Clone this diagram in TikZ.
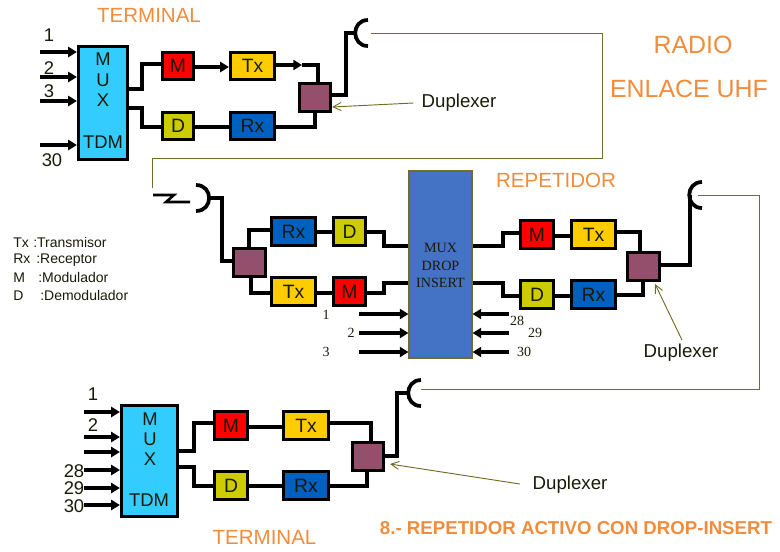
\documentclass[tikz,border=0pt]{standalone}
\usepackage{fontspec}
\setmainfont{Liberation Sans}
\newfontfamily\serifx{Liberation Serif}
\usetikzlibrary{arrows.meta}
\definecolor{ink}{HTML}{1A1A08}
\definecolor{thin}{HTML}{6E6E2A}
\definecolor{orng}{HTML}{F08C3C}
\definecolor{cyanx}{HTML}{33CCFF}
\definecolor{redx}{HTML}{FF0000}
\definecolor{amber}{HTML}{FFCC00}
\definecolor{bluex}{HTML}{0060C0}
\definecolor{olivex}{HTML}{CCCC00}
\definecolor{plum}{HTML}{944F6C}
\definecolor{steel}{HTML}{4472C4}
\newcommand\bx[7]{%
  \pgfmathsetmacro\bxcx{(#3+#5)/2}%
  \pgfmathsetmacro\bxcy{(#4+#6)/2}%
  \pgfmathsetmacro\bxw{(#5-#3-3)*0.75}%
  \pgfmathsetmacro\bxh{(#6-#4-3)*0.75}%
  \node[unit,fill=#2,minimum width=\bxw pt,minimum height=\bxh pt] (#1) at (\bxcx,\bxcy) {#7};}
\tikzset{
  unit/.style={draw=black,line width=2.4pt,inner sep=0pt,text=ink,font=\fontsize{14.5}{18}\selectfont},
  wire/.style={draw=black,line width=2.5pt,line join=miter},
  feed/.style={wire,-{Triangle[length=6.5pt,width=7.5pt]}},
  hop/.style={draw=thin,line width=0.6pt},
  note/.style={draw=thin,line width=0.7pt,-{Straight Barb[length=6pt,width=6pt]}},
  dish/.style={draw=black,line width=2.8pt,line cap=butt},
  lab/.style={text=ink,inner sep=0pt,font=\fontsize{14}{16}\selectfont},
  num/.style={text=ink,inner sep=0pt,font=\fontsize{13.8}{16}\selectfont},
  snum/.style={text=ink,inner sep=0pt,font=\serifx\fontsize{10.5}{12}\selectfont},
  head/.style={text=orng,inner sep=0pt,font=\fontsize{15.4}{18}\selectfont},
  big/.style={text=orng,inner sep=0pt,font=\fontsize{18.7}{22}\selectfont},
  legend/.style={text=ink,inner sep=0pt,anchor=west,font=\fontsize{10.5}{12}\selectfont},
}
\begin{document}
\begin{tikzpicture}[x=0.75pt,y=-0.75pt]
\useasboundingbox (0,0) rectangle (780,551);
% texts
\node[head] (t1) at (149,15) {TERMINAL};
\node[big] (r1) at (693,45) {RADIO};
\node[big] (r2) at (689,89) {ENLACE UHF};
\node[head] (t2) at (556,180) {REPETIDOR};
\node[head] (t3) at (264.5,537) {TERMINAL};
\node[text=orng,inner sep=0pt,font=\bfseries\fontsize{14}{16}\selectfont] (t4) at (576,528) {8.- REPETIDOR ACTIVO CON DROP-INSERT};
\node[legend] (l1) at (13,242) {\makebox[15pt][l]{Tx}:Transmisor};
\node[legend] (l2) at (13,260) {\makebox[17.25pt][l]{Rx}:Receptor};
\node[legend] (l3) at (13,277) {\makebox[18.75pt][l]{M}:Modulador};
\node[legend] (l4) at (13,295) {\makebox[20.25pt][l]{D}:Demodulador};
% terminal 1
\bx{mux1}{cyanx}{77}{45}{129}{161}{}
\node[num] (m1a) at (103,59) {M};
\node[num] (m1b) at (103,80) {U};
\node[num] (m1c) at (103,100) {X};
\node[num] (m1d) at (103,142) {TDM};
\bx{M1}{redx}{161}{51}{195}{81}{M}
\bx{T1}{amber}{229}{51}{276}{81}{Tx}
\bx{D1}{olivex}{161}{111}{195}{141}{D}
\bx{R1}{bluex}{229}{111}{276}{141}{Rx}
\bx{X1}{plum}{298}{82}{332}{113}{}
\node[num] (n1) at (49,35) {1};
\node[num] (n2) at (49,68) {2};
\node[num] (n3) at (49,91) {3};
\node[num] (n30) at (52,160) {30};
\foreach \yy in {52,77,101,145}
  \draw[feed] (40,\yy) -- (mux1.west |- 0,\yy);
\draw[wire] (mux1.east |- 0,89) -| (142,64) -- (M1.west |- 0,64);
\draw[wire] (mux1.east |- 0,108) -| (142,127) -- (D1.west |- 0,127);
\draw[feed] (M1.east |- 0,67) -- (T1.west |- 0,67);
\draw[wire] (D1.east |- 0,127) -- (R1.west |- 0,127);
\draw[feed] (T1.east |- 0,65) -- (302,65);
\draw[wire] (302,65) -| (X1.north -| 318,0);
\draw[wire] (R1.east |- 0,127) -| (X1.south -| 315,0);
\draw[wire] (X1.east |- 0,95) -| (346,33) -- (356,33) coordinate (A1);
\draw[dish] (368,20) .. controls (351,20) and (351,46) .. (368,46);
% repeater
\node[draw=thin,line width=0.8pt,inner sep=0pt,fill=steel,minimum width=47.25pt,minimum height=140.25pt] (Bb) at (440.5,264.5) {};
\node[text=ink,inner sep=0pt,align=center,font=\serifx\fontsize{10.6}{13.2}\selectfont] (Bt) at (440.5,265.5) {MUX\\DROP\\INSERT};
\bx{R2}{bluex}{270}{216}{317}{247}{Rx}
\bx{D2}{olivex}{332}{216}{367}{247}{D}
\bx{T2}{amber}{270}{276}{317}{307}{Tx}
\bx{M2}{redx}{332}{276}{367}{307}{M}
\bx{X2}{plum}{232}{247}{267}{278}{}
\bx{M3}{redx}{519}{219}{555}{250}{M}
\bx{T3}{amber}{570}{219}{617}{250}{Tx}
\bx{D3}{olivex}{519}{279}{555}{310}{D}
\bx{R3}{bluex}{570}{279}{617}{310}{Rx}
\bx{X3}{plum}{626}{251}{661}{282}{}
\draw[wire] (X2.north -| 249,0) |- (R2.west |- 0,230);
\draw[wire] (X2.south -| 251,0) |- (T2.west |- 0,293);
\draw[wire] (R2.east |- 0,232) -- (D2.west |- 0,232);
\draw[wire] (T2.east |- 0,293) -- (M2.west |- 0,293);
\draw[wire] (D2.east |- 0,232) -| (384,246) -- (Bb.west |- 0,246);
\draw[wire] (M2.east |- 0,293) -| (384,283) -- (Bb.west |- 0,283);
\draw[wire] (Bb.east |- 0,246) -| (503,233) -- (M3.west |- 0,233);
\draw[wire] (Bb.east |- 0,283) -| (503,296) -- (D3.west |- 0,296);
\draw[wire] (M3.east |- 0,236) -- (T3.west |- 0,236);
\draw[wire] (D3.east |- 0,296) -- (R3.west |- 0,296);
\draw[wire] (T3.east |- 0,232) -| (X3.north -| 640,0);
\draw[wire] (R3.east |- 0,295) -| (X3.south -| 643,0);
\draw[wire] (X3.east |- 0,265) -| (690,195);
\draw[dish] (702,182) .. controls (685,182) and (685,208) .. (702,208);
\draw[wire] (X2.west |- 0,261) -| (222,198) -- (209,198);
\draw[dish] (196,185) .. controls (213.5,185) and (213.5,211) .. (196,211);
\foreach \yy in {314,333,352}{
  \draw[feed] (359,\yy) -- (Bb.west |- 0,\yy);
  \draw[feed] (509,\yy) -- (Bb.east |- 0,\yy);
}
\node[snum] (a1) at (326,315) {1};
\node[snum] (a2) at (351,333) {2};
\node[snum] (a3) at (326,352) {3};
\node[snum] (a28) at (517,321) {28};
\node[snum] (a29) at (535,333) {29};
\node[snum] (a30) at (524,352) {30};
% terminal 2
\bx{mux3}{cyanx}{120}{404}{179}{518}{}
\node[num] (m3a) at (150,419) {M};
\node[num] (m3b) at (150,439) {U};
\node[num] (m3c) at (150,459) {X};
\node[num] (m3d) at (149,500) {TDM};
\bx{M4}{redx}{213}{410}{249}{441}{M}
\bx{T4}{amber}{282}{410}{330}{441}{Tx}
\bx{D4}{olivex}{213}{470}{249}{501}{D}
\bx{R4}{bluex}{282}{470}{330}{501}{Rx}
\bx{X4}{plum}{351}{441}{385}{472}{}
\foreach \yy in {412,437,452,470,488,505}
  \draw[feed] (84,\yy) -- (mux3.west |- 0,\yy);
\node[num] (b1) at (93,394) {1};
\node[num] (b2) at (93,425) {2};
\node[num] (b28) at (74,471) {28};
\node[num] (b29) at (74,488.5) {29};
\node[num] (b30) at (74,506) {30};
\draw[wire] (mux3.east |- 0,451) -| (194,423) -- (M4.west |- 0,423);
\draw[wire] (mux3.east |- 0,467) -| (194,486) -- (D4.west |- 0,486);
\draw[wire] (M4.east |- 0,427) -- (T4.west |- 0,427);
\draw[wire] (D4.east |- 0,486) -- (R4.west |- 0,486);
\draw[wire] (T4.east |- 0,423) -| (X4.north -| 371,0);
\draw[wire] (R4.east |- 0,486) -| (X4.south -| 367,0);
\draw[wire] (X4.east |- 0,456) -| (397,393) -- (408,393);
\draw[dish] (421,380) .. controls (404,380) and (404,406) .. (421,406);
% radio hops
\draw[hop] (371,33) -| (602,158) -| (152,188);
\draw[wire,line width=1.9pt] (153,195) -- (174,195) -- (166,202) -- (190,202);
\draw[hop] (698,195) -| (759,389) -- (421,389);
% duplexer notes
\node[lab] (d1) at (459,103) {Duplexer};
\node[lab] (d2) at (681,353) {Duplexer};
\node[lab] (d3) at (570,485) {Duplexer};
\draw[note] (d1.west) ++(-8,0) -- (X1.east |- 0,107);
\draw[note] (682,340) -- (655,284);
\draw[note] (520,484) -- (390,464);
\end{tikzpicture}
\end{document}
